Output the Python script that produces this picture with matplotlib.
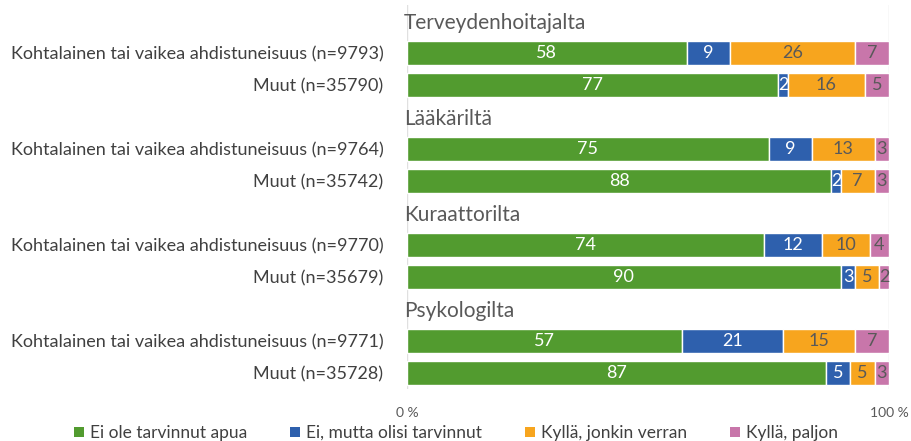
import matplotlib
matplotlib.use("Agg")
import matplotlib.pyplot as plt
from matplotlib.patches import Patch

groups = ["Terveydenhoitajalta", "Lääkäriltä", "Kuraattorilta", "Psykologilta"]
row_labels = [
    "Kohtalainen tai vaikea ahdistuneisuus (n=9793)", "Muut (n=35790)",
    "Kohtalainen tai vaikea ahdistuneisuus (n=9764)", "Muut (n=35742)",
    "Kohtalainen tai vaikea ahdistuneisuus (n=9770)", "Muut (n=35679)",
    "Kohtalainen tai vaikea ahdistuneisuus (n=9771)", "Muut (n=35728)",
]
series_names = ["Ei ole tarvinnut apua", "Ei, mutta olisi tarvinnut",
                "Kyllä, jonkin verran", "Kyllä, paljon"]
ei_ole = [58, 77, 75, 88, 74, 90, 57, 87]
ei_mutta = [9, 2, 9, 2, 12, 3, 21, 5]
kylla_jonkin = [26, 16, 13, 7, 10, 5, 15, 5]
kylla_paljon = [7, 5, 3, 3, 4, 2, 7, 3]
series = [ei_ole, ei_mutta, kylla_jonkin, kylla_paljon]

colors = ["#529B2F", "#2E60AD", "#F7A51E", "#C876AA"]
text_colors = ["white", "white", "#595959", "#595959"]

plt.rcParams['font.family'] = ['Lato', 'DejaVu Sans']

W, H = 911, 441
fig = plt.figure(figsize=(W / 100, H / 100), dpi=100)
ax_left, ax_right = 407 / W, 889 / W
ax_top, ax_bottom = 5 / H, 389 / H
ax = fig.add_axes([ax_left, 1 - ax_bottom, ax_right - ax_left, ax_bottom - ax_top])

# y slot positions: each group = title slot + 2 bar slots
bar_pos = []
title_pos = []
for g in range(len(groups)):
    title_pos.append(3 * g)
    bar_pos.extend([3 * g + 1, 3 * g + 2])

left = [0] * len(bar_pos)
for si, vals in enumerate(series):
    ax.barh(bar_pos, vals, left=left, height=0.72, color=colors[si],
            edgecolor="white", linewidth=1.0, zorder=3)
    for y, l, v in zip(bar_pos, left, vals):
        ax.text(l + v / 2, y, str(v), ha="center", va="center",
                color=text_colors[si], fontsize=13, zorder=4)
    left = [a + b for a, b in zip(left, vals)]

for t, y in zip(groups, title_pos):
    ax.text(-0.6, y + 0.05, t, ha="left", va="center", fontsize=15,
            color="#595959")

ax.set_xlim(0, 100)
ax.set_ylim(11.5, -0.5)
ax.set_yticks(bar_pos)
ax.set_yticklabels(row_labels, fontsize=13, color="#404040")
ax.set_xticks([0, 100])
ax.set_xticklabels(["0 %", "100 %"], fontsize=10, color="#595959")
ax.tick_params(axis="both", length=0)
ax.tick_params(axis="y", pad=17)
ax.tick_params(axis="x", pad=13)
for s in ax.spines.values():
    s.set_visible(False)
ax.grid(axis="x", color="#E0E0E0", linewidth=1, zorder=0)
ax.set_axisbelow(True)

handles = [Patch(facecolor=c, edgecolor="none") for c in colors]
fig.legend(handles, series_names, loc="center", bbox_to_anchor=(456 / W, 1 - 433 / H),
           ncol=4, frameon=False, fontsize=12.5, handlelength=0.55, handleheight=0.55,
           handletextpad=0.35, columnspacing=2.5, labelcolor="#404040")

fig.savefig("out.png", dpi=100)
